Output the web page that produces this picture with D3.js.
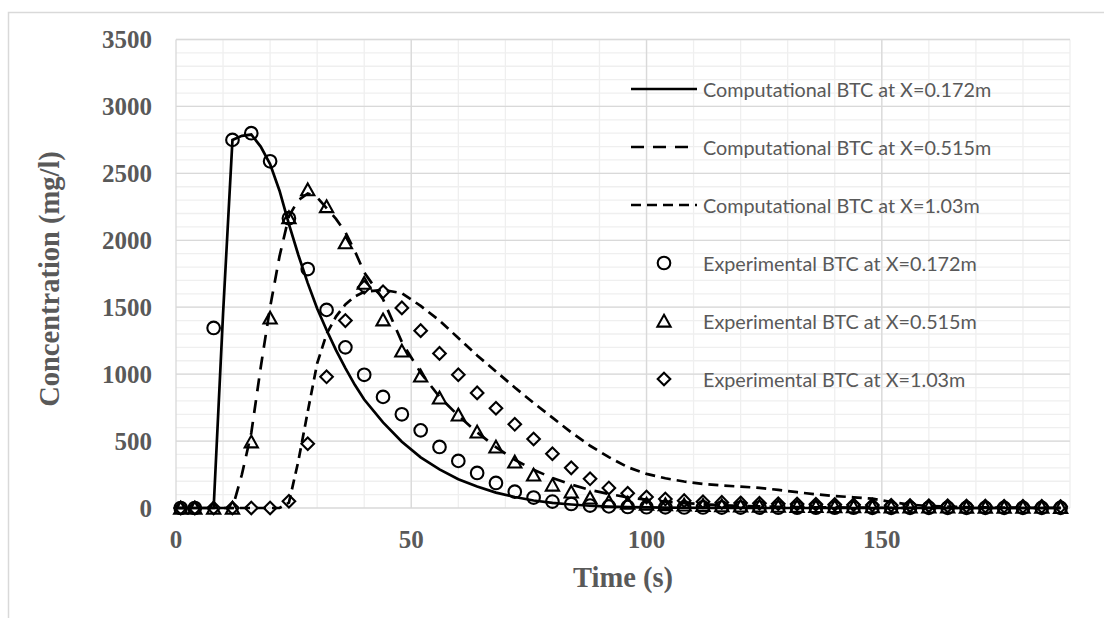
<!DOCTYPE html>
<html>
<head>
<meta charset="utf-8">
<script src="https://cdn.jsdelivr.net/npm/d3@7"></script>
<style>
  body { margin: 0; background: #fff; }
  svg { display: block; }
</style>
</head>
<body>
<svg id="chart"></svg>
<script>
// data
const compTime = [0,2,4,6,8,10,12,14,16,18,20,22,24,26,28,30,32,34,36,38,40,
  44,48,52,56,60,64,68,72,76,80,84,88,92,96,100,104,108,112,116,120,124,128,132,
  136,140,144,148,152,156,160,164,168,172,176,180,184,188]
const comp172 = [0,0,0,0,0,1450,2750,2780,2790,2700,2570,2370,2120,1890,1680,1490,1330,1180,1045,920,810,
  640,495,378,288,215,160,115,82,56,38,26,17,11,7,5,3,2,1,1,1,0,0,0,
  0,0,0,0,0,0,0,0,0,0,0,0,0,0]
const comp515 = [0,0,0,0,0,0,0,250,560,1050,1500,1880,2180,2300,2350,2320,2240,2160,2060,1920,1760,
  1560,1240,1010,830,690,565,455,360,285,225,175,135,105,80,62,48,37,28,21,16,12,9,7,
  5,4,3,2,2,1,1,0,0,0,0,0,0,0]
const comp103 = [0,0,0,0,0,0,0,0,0,0,0,0,40,350,720,1080,1300,1430,1520,1580,1615,
  1630,1605,1510,1400,1270,1140,1020,900,785,675,565,465,380,305,255,222,198,180,168,160,150,135,118,
  102,90,80,70,45,25,15,10,6,4,3,2,1,1]

const expTime = [1,4,8,12,16,20,24,28,32,36,40,44,48,52,56,60,64,68,72,76,80,84,88,92,96,100,
  104,108,112,116,120,124,128,132,136,140,144,148,152,156,160,164,168,172,176,180,184,188]
const exp172 = [0,0,1345,2750,2800,2590,2165,1785,1480,1200,995,830,700,580,456,352,262,187,122,78,48,30,18,12,8,6,
  5,4,4,3,3,3,2,2,2,2,2,1,1,1,1,1,1,1,1,1,1,1]
const exp515 = [0,0,0,0,495,1420,2170,2378,2252,1982,1680,1406,1174,987,823,696,568,456,344,247,172,120,75,48,37,30,
  26,23,20,18,16,15,14,13,12,11,10,10,9,9,8,8,7,7,6,6,6,5]
const exp103 = [0,0,0,0,0,0,50,480,980,1400,1650,1615,1495,1325,1155,995,860,745,625,515,405,300,218,150,110,82,
  67,55,47,42,38,35,32,30,28,26,24,22,20,18,17,16,15,14,13,12,12,11]

const xTicks = [0,50,100,150]
const yTicks = [0,500,1000,1500,2000,2500,3000,3500]

const legendLabels = [
  'Computational BTC at X=0.172m',
  'Computational BTC at X=0.515m',
  'Computational BTC at X=1.03m',
  'Experimental BTC at X=0.172m',
  'Experimental BTC at X=0.515m',
  'Experimental BTC at X=1.03m'
]

const W = 1104, H = 618
const svg = d3.select('#chart').attr('width', W).attr('height', H)

svg.append('rect').attr('width', W).attr('height', H).attr('fill', '#fff')
// outer chart frame (right and bottom edges fall outside the picture)
svg.append('rect')
  .attr('x', 8.5).attr('y', 12.5).attr('width', 1200).attr('height', 700)
  .attr('fill', 'none').attr('stroke', '#d9d9d9').attr('stroke-width', 1.5)

const xScale = d3.scaleLinear().domain([0, 190]).range([176, 1070])
const yScale = d3.scaleLinear().domain([0, 3500]).range([508, 39.5])

// grid, minor first
const grid = svg.append('g')
grid.selectAll('.vmin').data(d3.range(10, 191, 10)).enter().append('line')
  .attr('x1', d => xScale(d)).attr('x2', d => xScale(d))
  .attr('y1', yScale(3500)).attr('y2', yScale(0))
  .attr('stroke', '#efefef').attr('stroke-width', 1.3)
grid.selectAll('.hmin').data(d3.range(100, 3501, 100)).enter().append('line')
  .attr('x1', xScale(0)).attr('x2', xScale(190))
  .attr('y1', d => yScale(d)).attr('y2', d => yScale(d))
  .attr('stroke', '#efefef').attr('stroke-width', 1.3)
grid.selectAll('.vmaj').data(xTicks).enter().append('line')
  .attr('x1', d => xScale(d)).attr('x2', d => xScale(d))
  .attr('y1', yScale(3500)).attr('y2', yScale(0))
  .attr('stroke', '#d9d9d9').attr('stroke-width', 1.3)
grid.selectAll('.hmaj').data(yTicks).enter().append('line')
  .attr('x1', xScale(0)).attr('x2', xScale(190))
  .attr('y1', d => yScale(d)).attr('y2', d => yScale(d))
  .attr('stroke', '#d9d9d9').attr('stroke-width', 1.3)

// tick labels
const tickFont = 'Liberation Serif, Times New Roman, serif'
svg.append('g').selectAll('text').data(yTicks).enter().append('text')
  .attr('x', 152).attr('y', d => yScale(d))
  .attr('text-anchor', 'end').attr('dominant-baseline', 'central')
  .attr('font-family', tickFont).attr('font-weight', 'bold').attr('font-size', 25)
  .attr('fill', '#595959').text(d => d)
svg.append('g').selectAll('text').data(xTicks).enter().append('text')
  .attr('x', d => xScale(d)).attr('y', 548)
  .attr('text-anchor', 'middle')
  .attr('font-family', tickFont).attr('font-weight', 'bold').attr('font-size', 25)
  .attr('fill', '#595959').text(d => d)

// axis titles
svg.append('text')
  .attr('transform', 'translate(59,279) rotate(-90)')
  .attr('text-anchor', 'middle')
  .attr('font-family', tickFont).attr('font-weight', 'bold').attr('font-size', 28.5)
  .attr('fill', '#595959').text('Concentration (mg/l)')
svg.append('text')
  .attr('x', 623).attr('y', 587)
  .attr('text-anchor', 'middle')
  .attr('font-family', tickFont).attr('font-weight', 'bold').attr('font-size', 28.5)
  .attr('fill', '#595959').text('Time (s)')

// computational lines
const dashes = ['none', '13,9', '10,6']
const compSeries = [comp172, comp515, comp103]
const line = d3.line().x(d => xScale(d[0])).y(d => yScale(d[1]))
compSeries.forEach((vals, i) => {
  svg.append('path')
    .datum(compTime.map((t, k) => [t, vals[k]]))
    .attr('d', line)
    .attr('fill', 'none').attr('stroke', '#000').attr('stroke-width', 2.7)
    .attr('stroke-dasharray', dashes[i])
})

// markers
const shapes = [
  'M6.3,0A6.3,6.3 0 1,1 -6.3,0A6.3,6.3 0 1,1 6.3,0Z',
  'M0,-6.2L6.6,5.6L-6.6,5.6Z',
  'M0,-6.3L6.3,0L0,6.3L-6.3,0Z'
]
const expSeries = [exp172, exp515, exp103]
expSeries.forEach((vals, i) => {
  svg.append('g').selectAll('path')
    .data(expTime.map((t, k) => [t, vals[k]]))
    .enter().append('path')
    .attr('transform', d => `translate(${xScale(d[0])},${yScale(d[1])})`)
    .attr('d', shapes[i])
    .attr('fill', 'none').attr('stroke', '#000').attr('stroke-width', 2.1)
})

// legend
const legend = svg.append('g')
legendLabels.forEach((label, i) => {
  const y = 89 + i * 58
  if (i < 3) {
    legend.append('line')
      .attr('x1', 631).attr('x2', 697).attr('y1', y).attr('y2', y)
      .attr('stroke', '#000').attr('stroke-width', 2.7)
      .attr('stroke-dasharray', dashes[i])
  } else {
    legend.append('path')
      .attr('transform', `translate(664,${y})`)
      .attr('d', shapes[i - 3])
      .attr('fill', 'none').attr('stroke', '#000').attr('stroke-width', 2.1)
  }
  legend.append('text')
    .attr('x', 703).attr('y', y)
    .attr('dominant-baseline', 'central')
    .attr('font-family', 'Lato, Open Sans, sans-serif').attr('font-size', 19.8)
    .attr('fill', '#595959').text(label)
})
</script>
</body>
</html>
